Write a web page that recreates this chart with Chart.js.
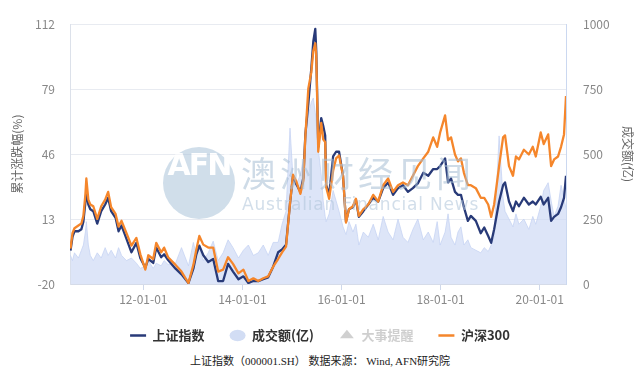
<!DOCTYPE html>
<html>
<head>
<meta charset="utf-8">
<script src="https://cdn.jsdelivr.net/npm/chart.js@4/dist/chart.umd.min.js"></script>
<style>
    html, body { margin: 0; padding: 0; background: #fff; overflow: hidden; }
    #wrap { position: relative; width: 640px; height: 372px; overflow: hidden; }
    #box { position: absolute; left: 0; top: 0; width: 640px; height: 352px; }
    #note {
        position: absolute; left: 0; top: 352px; width: 640px; text-align: center;
        font: 11px "Liberation Serif", "Noto Sans CJK SC", serif; color: #222;
    }
    .wm { position: absolute; pointer-events: none; opacity: 0.55; white-space: nowrap; }
    #wmCircle {
        left: 163px; top: 147px; width: 72px; height: 72px; border-radius: 50%;
        background: #a9c3d9; color: #fff; text-align: center; line-height: 72px;
        font: bold 30px "DejaVu Sans", sans-serif; letter-spacing: -2px;
    }
    #wmCn { left: 241px; top: 146px; font: 35px "Noto Sans CJK SC"; color: #a6bdd3; letter-spacing: 4px; }
    #wmEn { left: 242px; top: 194px; font: 17px "DejaVu Sans", sans-serif; color: #aec4d9; letter-spacing: 0.8px; }
</style>
</head>
<body>
<div id="wrap">
    <div id="box"><canvas id="chart"></canvas></div>
    <div class="wm" id="wmCircle">AFN</div>
    <div class="wm" id="wmCn">澳洲财经见闻</div>
    <div class="wm" id="wmEn">Australian Financial News</div>
    <div id="note">上证指数（000001.SH） 数据来源： Wind, AFN研究院</div>
</div>
<script>
// dates as decimal years
const dates = [
    2010.53, 2010.57, 2010.61, 2010.69, 2010.75, 2010.79, 2010.83, 2010.85, 2010.89, 2010.93,
    2010.99, 2011.07, 2011.15, 2011.23, 2011.29, 2011.35, 2011.44, 2011.50, 2011.56, 2011.66,
    2011.76, 2011.86, 2011.94, 2012.04, 2012.10, 2012.20, 2012.26, 2012.36, 2012.42, 2012.50,
    2012.65, 2012.77, 2012.91, 2013.01, 2013.07, 2013.13, 2013.21, 2013.31, 2013.41, 2013.51,
    2013.61, 2013.71, 2013.81, 2013.92, 2014.02, 2014.12, 2014.22, 2014.32, 2014.42, 2014.52,
    2014.62, 2014.72, 2014.80, 2014.88, 2014.96, 2015.02, 2015.08, 2015.17, 2015.23, 2015.27,
    2015.33, 2015.39, 2015.43, 2015.47, 2015.49, 2015.53, 2015.59, 2015.63, 2015.67, 2015.69,
    2015.75, 2015.83, 2015.89, 2015.95, 2016.03, 2016.09, 2016.15, 2016.23, 2016.29, 2016.35,
    2016.44, 2016.54, 2016.64, 2016.74, 2016.84, 2016.94, 2017.04, 2017.14, 2017.24, 2017.34,
    2017.44, 2017.54, 2017.65, 2017.75, 2017.85, 2017.93, 2017.99, 2018.09, 2018.15, 2018.21,
    2018.29, 2018.35, 2018.41, 2018.47, 2018.55, 2018.61, 2018.71, 2018.81, 2018.88, 2018.96,
    2019.02, 2019.08, 2019.18, 2019.26, 2019.30, 2019.38, 2019.46, 2019.52, 2019.58, 2019.68,
    2019.78, 2019.86, 2019.92, 2020.02, 2020.08, 2020.17, 2020.23, 2020.29, 2020.37, 2020.43,
    2020.49, 2020.53,
];

// 上证指数 累计涨跌幅 (%)
const shIndex = [
    -3.0, 3.9, 6.8, 6.8, 7.8, 11.7, 21.4, 26.8, 20.4, 18.0,
    17.0, 10.7, 17.0, 20.4, 23.8, 17.0, 13.6, 6.8, 9.7, 2.9,
    -3.9, 0.9, -6.9, -11.7, -7.3, -9.3, -1.5, -6.4, -4.9, -7.8,
    -12.2, -15.1, -19.5, -12.2, -4.9, -0.5, -5.4, -8.8, -7.3, -18.5,
    -18.5, -9.8, -13.7, -17.6, -16.1, -19.5, -18.5, -18.5, -17.6, -16.6,
    -11.2, -3.9, -2.5, 0.0, 20.9, 35.0, 31.1, 26.8, 34.1, 56.0,
    71.6, 89.6, 103.2, 109.6, 98.4, 49.7, 64.3, 60.4, 55.5, 30.2,
    25.3, 44.8, 47.2, 47.2, 35.0, 11.7, 18.0, 19.0, 22.9, 14.1,
    17.0, 20.4, 23.8, 21.9, 28.7, 31.6, 25.3, 28.7, 30.2, 26.8,
    28.7, 31.1, 36.5, 35.0, 38.4, 38.4, 39.9, 43.8, 31.6, 33.6,
    26.8, 25.3, 25.3, 19.0, 12.1, 14.6, 12.1, 5.8, 8.7, 4.4,
    0.9, 7.8, 21.9, 30.2, 31.6, 21.9, 17.0, 21.9, 19.5, 23.8,
    20.4, 21.9, 20.4, 24.3, 20.4, 23.8, 12.1, 14.1, 15.6, 19.0,
    23.8, 35.0,
];

// 沪深300 累计涨跌幅 (%)
const hs300 = [
    -2.0, 5.8, 8.3, 9.7, 10.7, 14.6, 25.3, 33.6, 22.9, 20.4,
    19.5, 13.1, 19.5, 22.9, 26.8, 19.0, 15.6, 9.2, 12.1, 5.8,
    -0.5, 3.4, -4.9, -12.7, -5.4, -7.3, 0.9, -3.9, -1.5, -6.4,
    -10.3, -13.7, -19.5, -10.3, -2.5, 4.4, 0.0, -1.5, -1.5, -13.7,
    -12.7, -6.4, -9.8, -14.6, -12.7, -18.5, -17.1, -18.5, -17.1, -16.1,
    -11.2, -7.3, -3.9, -1.0, 20.9, 35.5, 32.6, 25.8, 32.6, 55.0,
    79.4, 87.6, 98.4, 102.3, 95.9, 47.2, 61.8, 53.5, 52.1, 29.2,
    23.3, 37.5, 43.8, 45.3, 35.0, 11.2, 18.0, 19.5, 23.3, 14.6,
    18.0, 20.4, 25.3, 21.9, 30.2, 33.6, 26.8, 30.2, 31.6, 30.2,
    35.0, 39.9, 43.8, 47.2, 54.5, 49.7, 57.0, 65.7, 53.1, 54.5,
    45.8, 42.3, 43.8, 36.5, 30.2, 30.2, 28.7, 23.8, 23.8, 20.4,
    14.1, 20.4, 39.9, 54.5, 55.5, 39.9, 35.0, 44.8, 43.3, 48.2,
    45.8, 49.7, 44.8, 57.0, 51.1, 56.0, 39.9, 43.3, 44.8, 49.7,
    56.0, 75.5,
];

// 成交额 (亿)
const volume = [
    110, 90, 120, 100, 130, 150, 200, 240, 150, 110,
    90, 120, 100, 140, 110, 130, 100, 140, 110, 90,
    100, 80, 60, 70, 90, 60, 80, 70, 90, 75,
    80, 140, 70, 160, 110, 140, 90, 120, 165, 90,
    120, 170, 140, 100, 130, 150, 110, 120, 150, 110,
    160, 160, 230, 280, 600, 410, 380, 420, 480, 560,
    650, 700, 716, 660, 620, 520, 420, 320, 260, 240,
    270, 360, 320, 280, 220, 190, 240, 200, 230, 150,
    200, 180, 230, 170, 260, 200, 170, 250, 180, 160,
    210, 250, 170, 200, 160, 240, 150, 200, 270, 180,
    150, 200, 220, 150, 170, 140, 130, 120, 140, 125,
    150, 180, 570, 330, 280, 250, 220, 270, 230, 250,
    210, 260, 230, 300, 360, 390, 320, 260, 300, 380,
    330, 290,
];

const xTicks = [2012, 2014, 2016, 2018, 2020];
const leftTicks = [-20, 13, 46, 79, 112];
const legendOrder = ['上证指数', '成交额(亿)', '大事提醒', '沪深300'];

const NAVY = '#283a78';
const ORANGE = '#f5862b';
const AREA = 'rgba(206,218,245,0.7)';
const FONT = '"Noto Sans CJK SC", "Noto Sans", sans-serif';

function points(values) {
    return values.map((v, i) => ({ x: dates[i], y: v }));
}

function lineSet(label, values, color, order) {
    return {
        label,
        type: 'line',
        data: points(values),
        yAxisID: 'y',
        borderColor: color,
        backgroundColor: color,
        borderWidth: 2.3,
        borderJoinStyle: 'round',
        pointRadius: 0,
        tension: 0,
        order,
    };
}

const legendStyle = {
    '上证指数': { pointStyle: 'line', strokeStyle: NAVY, fillStyle: NAVY, lineWidth: 2.5, fontColor: '#333' },
    '成交额(亿)': { pointStyle: 'circle', strokeStyle: '#d2ddf4', fillStyle: '#d2ddf4', lineWidth: 0, fontColor: '#333' },
    '大事提醒': { pointStyle: 'triangle', strokeStyle: '#d0d0d0', fillStyle: '#d0d0d0', lineWidth: 0, fontColor: '#cfcfcf' },
    '沪深300': { pointStyle: 'line', strokeStyle: ORANGE, fillStyle: ORANGE, lineWidth: 2.5, fontColor: '#333' },
};

new Chart(document.getElementById('chart'), {
    type: 'line',
    data: {
        datasets: [
            lineSet('上证指数', shIndex, NAVY, 1),
            {
                label: '成交额(亿)',
                data: points(volume),
                yAxisID: 'y2',
                borderColor: 'rgba(195,209,242,0.9)',
                borderWidth: 0.8,
                backgroundColor: AREA,
                fill: 'origin',
                pointRadius: 0,
                tension: 0,
                order: 3,
            },
            { label: '大事提醒', type: 'scatter', data: [], yAxisID: 'y', order: 2 },
            lineSet('沪深300', hs300, ORANGE, 0),
        ],
    },
    options: {
        responsive: true,
        maintainAspectRatio: false,
        animation: false,
        layout: { padding: { top: 12, left: 0, right: 0, bottom: 0 } },
        plugins: {
            tooltip: { enabled: false },
            legend: {
                position: 'bottom',
                labels: {
                    usePointStyle: true,
                    pointStyleWidth: 16,
                    boxHeight: 8,
                    padding: 25,
                    font: { family: FONT, size: 13, weight: 'bold' },
                    sort: (a, b) => legendOrder.indexOf(a.text) - legendOrder.indexOf(b.text),
                    generateLabels: chart => {
                        const items = Chart.defaults.plugins.legend.labels.generateLabels(chart);
                        return items.map(item => Object.assign(item, legendStyle[item.text], { hidden: false }));
                    },
                },
            },
        },
        scales: {
            x: {
                type: 'linear',
                min: 2010.52,
                max: 2020.53,
                afterBuildTicks: scale => { scale.ticks = xTicks.map(v => ({ value: v })); },
                afterFit: scale => { scale.height = 20; },
                ticks: {
                    padding: 2,
                    color: '#888',
                    font: { family: FONT, size: 12 },
                    callback: v => String(v).slice(2) + '-01-01',
                },
                grid: { drawOnChartArea: false, color: '#cfd8ea', tickLength: 6 },
                border: { color: '#d5dbe8' },
            },
            y: {
                position: 'left',
                min: -20,
                max: 112,
                afterBuildTicks: scale => { scale.ticks = leftTicks.map(v => ({ value: v })); },
                afterFit: scale => { scale.width = 70; },
                ticks: { padding: 15, color: '#888', font: { family: FONT, size: 12 } },
                grid: { color: '#e8ebf1', drawTicks: false },
                border: { color: '#dce1ea' },
                title: {
                    display: true,
                    text: '累计涨跌幅(%)',
                    color: '#666',
                    font: { family: FONT, size: 12 },
                    padding: { top: 10, bottom: 0 },
                },
            },
            y2: {
                position: 'right',
                min: 0,
                max: 1000,
                ticks: {
                    stepSize: 250,
                    padding: 17,
                    color: '#888',
                    font: { family: FONT, size: 12 },
                    callback: v => String(v),
                },
                afterFit: scale => { scale.width = 74; },
                grid: { drawOnChartArea: false, drawTicks: false },
                border: { color: '#cbd8f0' },
                title: {
                    display: true,
                    text: '成交额(亿)',
                    color: '#666',
                    font: { family: FONT, size: 12 },
                    padding: { top: 5, bottom: 0 },
                },
            },
        },
    },
});
</script>
</body>
</html>
